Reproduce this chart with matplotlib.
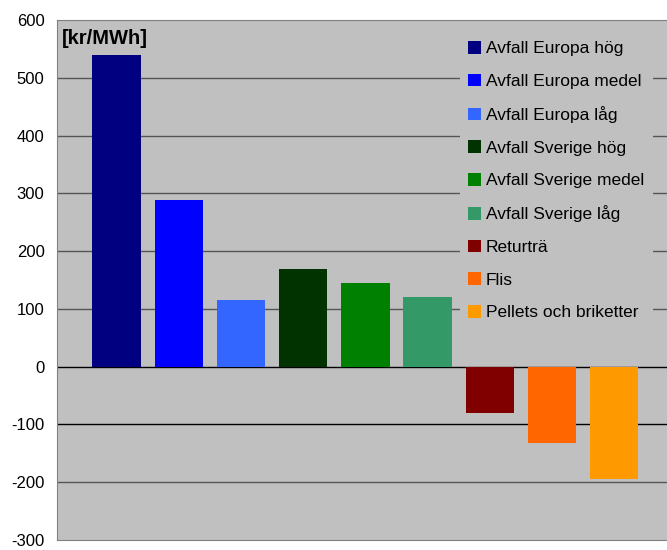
import matplotlib
matplotlib.use("Agg")
import matplotlib.pyplot as plt
from matplotlib.patches import Patch

plt.rcParams['font.family'] = ['Liberation Sans', 'DejaVu Sans']

categories = ["Avfall Europa hög", "Avfall Europa medel", "Avfall Europa låg",
              "Avfall Sverige hög", "Avfall Sverige medel", "Avfall Sverige låg",
              "Returträ", "Flis", "Pellets och briketter"]
values = [539, 288, 115, 169, 145, 121, -80, -132, -194]
colors = ["#000080", "#0000FF", "#3366FF", "#003300", "#008000", "#339966",
          "#800000", "#FF6600", "#FF9900"]
yticks = [-300, -200, -100, 0, 100, 200, 300, 400, 500, 600]

fig = plt.figure(figsize=(6.67, 5.5), dpi=100)
ax = fig.add_axes([57 / 667, 10 / 550, 1 - 57 / 667, 520 / 550])
ax.set_facecolor("#C0C0C0")

x = list(range(len(categories)))
ax.bar(x, values, width=0.78, color=colors, zorder=3)

ax.set_ylim(-300, 600)
ax.set_xlim(-0.96, 8.85)
ax.set_yticks(yticks)
ax.set_yticklabels([str(v) for v in yticks], fontsize=12)
ax.tick_params(axis='y', length=0, pad=9)
ax.set_xticks([])
for v in yticks[1:-1]:
    ax.axhline(v, color="#000000" if v in (0, -100) else "#555555", lw=1.0, zorder=1)

ax.spines["right"].set_visible(False)
for side in ("left", "top", "bottom"):
    ax.spines[side].set_color("#808080")

ax.text(0.008, 0.982, "[kr/MWh]", transform=ax.transAxes, fontsize=14.5,
        fontweight="bold", va="top", ha="left")

handles = [Patch(facecolor=c, edgecolor="none") for c in colors]
leg = ax.legend(handles, categories, loc="upper left", bbox_to_anchor=(0.646, 0.993),
                frameon=True, fontsize=12.5, handlelength=0.75, handleheight=0.75,
                handletextpad=0.25, labelspacing=0.99, borderpad=0.5,
                facecolor="#C0C0C0", edgecolor="none", framealpha=1.0)
leg.get_frame().set_linewidth(0)
leg.set_zorder(5)

fig.savefig("out.png", dpi=100)
